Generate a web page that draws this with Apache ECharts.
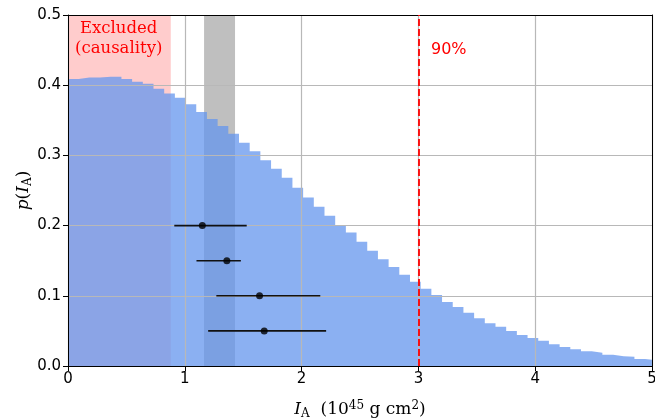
<!DOCTYPE html>
<html><head><meta charset="utf-8">
<script src="https://cdn.jsdelivr.net/npm/echarts@6/dist/echarts.min.js"></script>
<style>html,body{margin:0;padding:0;background:#fff}#c{width:655px;height:418px}</style>
</head><body><div id="c"></div>
<script>
// ---- data ----
const binWidth = 0.0915;
const histHeights = [0.409,0.411,0.411,0.412,0.412,0.409,0.405,0.402,0.395,0.388,
  0.382,0.373,0.362,0.352,0.342,0.331,0.318,0.306,0.293,0.281,
  0.268,0.254,0.240,0.227,0.214,0.201,0.190,0.177,0.164,0.152,
  0.141,0.130,0.120,0.110,0.101,0.091,0.084,0.076,0.068,0.061,
  0.056,0.050,0.044,0.040,0.036,0.031,0.027,0.024,0.021,0.019,
  0.016,0.014,0.013,0.010,0.0085];
const xTicks = [0,1,2,3,4,5];
const yTicks = [0.0,0.1,0.2,0.3,0.4,0.5];
const pointX = [1.15,1.36,1.64,1.68];
const pointY = [0.20,0.15,0.10,0.05];
const errLow = [0.91,1.10,1.27,1.20];
const errHigh = [1.53,1.48,2.16,2.21];
const excludedRange = [0,0.88];
const grayBand = [1.165,1.43];
const percentileX = 3;
const excludedLabel = 'Excluded\n(causality)';
const percentileLabel = '90%';

// ---- build ----
const stepData = histHeights.map((h,i)=>[i*binWidth,h]);
stepData.push([histHeights.length*binWidth, histHeights[histHeights.length-1]]);
const errData = pointX.map((x,i)=>[errLow[i],errHigh[i],pointY[i]]);
const ptData = pointX.map((x,i)=>[x,pointY[i]]);

const serif = 'DejaVu Serif';
const sans = 'DejaVu Sans';
const richMath = {
  i:{fontFamily:serif,fontStyle:'italic',fontSize:17,color:'#000',lineHeight:22},
  n:{fontFamily:serif,fontSize:17,color:'#000',lineHeight:22},
  sub:{fontFamily:serif,fontSize:12,color:'#000',lineHeight:22,padding:[7,0,0,0]},
  sup:{fontFamily:serif,fontSize:12,color:'#000',lineHeight:22,padding:[0,0,8,0]}
};

const chart = echarts.init(document.getElementById('c'), null, {renderer:'canvas'});
chart.setOption({
  animation:false,
  grid:{left:68,right:3,top:15,bottom:52,containLabel:false,outerBoundsMode:'none'},
  xAxis:[{
    type:'value',min:xTicks[0],max:xTicks[xTicks.length-1],interval:1,z:5,
    axisLine:{show:true,onZero:false,lineStyle:{color:'#000',width:1}},
    axisTick:{show:true,length:5,lineStyle:{color:'#000'}},
    axisLabel:{fontSize:15,color:'#000',fontFamily:sans,margin:6},
    splitLine:{show:true,lineStyle:{color:'#b8b8b8',width:1.2}},
    name:'{i|I}{sub|A}{n|  (10}{sup|45}{n| g cm}{sup|2}{n|)}',
    nameLocation:'middle',nameGap:33,nameMoveOverlap:false,
    nameTextStyle:{rich:richMath}
  },{
    type:'value',position:'top',min:xTicks[0],max:xTicks[xTicks.length-1],z:5,
    axisLine:{show:true,onZero:false,lineStyle:{color:'#000',width:1}},
    axisTick:{show:false},axisLabel:{show:false},splitLine:{show:false}
  }],
  yAxis:[{
    type:'value',min:yTicks[0],max:yTicks[yTicks.length-1],interval:0.1,z:5,
    axisLine:{show:true,onZero:false,lineStyle:{color:'#000',width:1}},
    axisTick:{show:true,length:5,lineStyle:{color:'#000'}},
    axisLabel:{fontSize:15,color:'#000',fontFamily:sans,margin:7,formatter:v=>v.toFixed(1)},
    splitLine:{show:true,lineStyle:{color:'#b8b8b8',width:1.2}},
    name:'{i|p}{n|(}{i|I}{sub|A}{n|)}',
    nameLocation:'middle',nameGap:33,nameMoveOverlap:false,
    nameTextStyle:{rich:richMath}
  },{
    type:'value',position:'right',min:yTicks[0],max:yTicks[yTicks.length-1],z:5,
    axisLine:{show:true,onZero:false,lineStyle:{color:'#000',width:1}},
    axisTick:{show:false},axisLabel:{show:false},splitLine:{show:false}
  }],
  series:[{
    type:'line',step:'end',data:stepData,xAxisIndex:0,yAxisIndex:0,
    symbol:'none',z:2,clip:true,
    lineStyle:{width:0,opacity:0},
    areaStyle:{color:'rgb(100,149,237)',opacity:0.75,origin:'start'},
    markArea:{
      silent:true,z:1,
      data:[
        [{xAxis:excludedRange[0],itemStyle:{color:'rgba(255,0,0,0.2)'}},{xAxis:excludedRange[1]}],
        [{xAxis:grayBand[0],itemStyle:{color:'rgba(128,128,128,0.5)'}},{xAxis:grayBand[1]}]
      ]
    }
  },{
    type:'custom',data:errData,z:8,xAxisIndex:0,yAxisIndex:0,
    encode:{x:[0,1],y:2},
    renderItem:(params,api)=>{
      const a=api.coord([api.value(0),api.value(2)]);
      const b=api.coord([api.value(1),api.value(2)]);
      return {type:'line',shape:{x1:a[0],y1:a[1],x2:b[0],y2:b[1]},style:{stroke:'#111',lineWidth:1.6}};
    }
  },{
    type:'scatter',data:ptData,z:9,symbol:'circle',symbolSize:7,
    itemStyle:{color:'#000'},
    markLine:{
      silent:true,symbol:'none',z:7,
      label:{show:false},
      lineStyle:{color:'#ff0000',type:[7,3],width:1.8},
      data:[{xAxis:percentileX}]
    }
  }],
  graphic:[
    {type:'text',left:75,top:19,z:10,style:{text:excludedLabel,fill:'#ff0000',font:'16.5px "DejaVu Serif"',textAlign:'center',lineHeight:20,x:40}},
    {type:'text',left:431,top:42,z:10,style:{text:percentileLabel,fill:'#ff0000',font:'16px "DejaVu Sans"'}}
  ]
});
</script></body></html>
